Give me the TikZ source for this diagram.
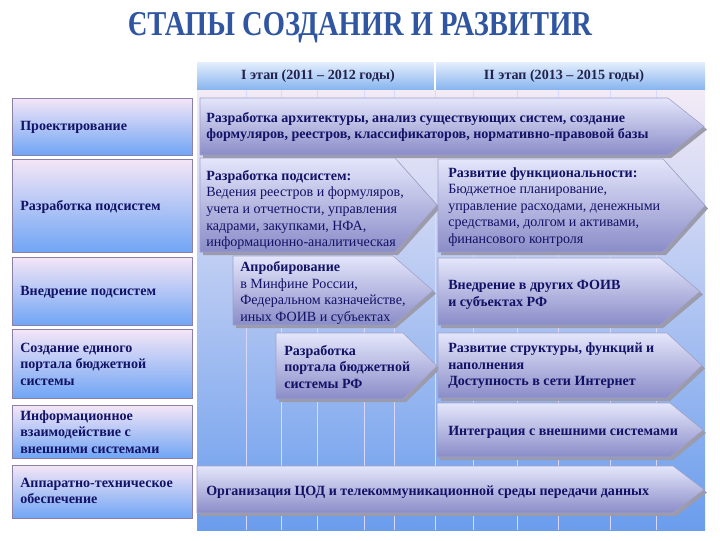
\documentclass[tikz,border=0pt]{standalone}
\usepackage{graphicx}
\usepackage{fontspec}
\setmainfont{Liberation Serif}
\usetikzlibrary{positioning}

\definecolor{navy}{RGB}{18,18,102}
\definecolor{headtext}{RGB}{34,34,78}
\definecolor{titleblue}{RGB}{48,86,162}
\definecolor{paneltop}{RGB}{243,235,246}
\definecolor{panelbot}{RGB}{106,157,237}
\definecolor{boxtop}{RGB}{245,230,246}
\definecolor{boxbot}{RGB}{112,165,245}
\definecolor{boxedge}{RGB}{138,128,168}
\definecolor{headtop}{RGB}{228,238,252}
\definecolor{headbot}{RGB}{134,180,238}
\definecolor{arrowtop}{RGB}{228,230,251}
\definecolor{arrowbot}{RGB}{138,140,200}
\definecolor{arrowedge}{RGB}{160,160,200}
\definecolor{arrowshadow}{RGB}{155,155,171}

% x1, y1, y2, tip start, tip
\newcommand\stagearrow[5]{%
  \fill[arrowshadow,shift={(3,3)}] (#1,#2)--(#4,#2)--(#5,{(#2+#3)/2})--(#4,#3)--(#1,#3)--cycle;
  \shade[top color=arrowtop,bottom color=arrowbot,draw=arrowedge,line width=0.4pt]
    (#1,#2)--(#4,#2)--(#5,{(#2+#3)/2})--(#4,#3)--(#1,#3)--cycle;
}

\begin{document}
\begin{tikzpicture}[x=0.025cm,y=-0.025cm,
  rowbox/.style={top color=boxtop,bottom color=boxbot,draw=boxedge,line width=0.6pt},
  rowtext/.style={anchor=west,align=left,inner sep=0pt,text=navy,font=\fontsize{10}{11.8}\selectfont\bfseries},
  stagetext/.style={anchor=west,align=left,inner sep=0pt,text=navy,font=\fontsize{10}{11.8}\selectfont\bfseries},
  plaintext/.style={anchor=west,align=left,inner sep=0pt,text=navy,font=\fontsize{10}{11.8}\selectfont},
  headtext/.style={inner sep=0pt,text=headtext,font=\fontsize{10}{12}\selectfont\bfseries}]

\useasboundingbox (0,0) rectangle (720,540);

\node[anchor=base,inner sep=0pt] (title) at (360,35) {\color{titleblue}\resizebox{330pt}{16.4pt}{\bfseries ЄТАПЫ СОЗДАНИR И РАЗВИТИR}};

% header and background
\shade[top color=headtop,bottom color=headbot] (197,62) rectangle (705,90);
\draw[white,line width=1pt] (435,62)--(435,90);
\shade[top color=paneltop,bottom color=panelbot] (197,90) rectangle (705,530);
\foreach \gx in {246,281,317,364,394,435,473,517,558,610,656}{
  \draw[white!85!blue,line width=0.6pt] (\gx,90)--(\gx,530);
}

\node[headtext] (stageone) at (318,76) {I этап (2011 – 2012 годы)};
\node[headtext] (stagetwo) at (564,76) {II этап (2013 – 2015 годы)};

% left column
\shade[rowbox] (12,98) rectangle (192,155);
\shade[rowbox] (12,159) rectangle (192,252);
\shade[rowbox] (12,257) rectangle (192,325);
\shade[rowbox] (12,329) rectangle (192,398);
\shade[rowbox] (12,405) rectangle (192,458);
\shade[rowbox] (12,465) rectangle (192,518);

\node[rowtext] (design) at (20,127) {Проектирование};
\node[rowtext] (subdev) at (20,207) {Разработка подсистем};
\node[rowtext] (subimpl) at (20,292) {Внедрение подсистем};
\node[rowtext] (portal) at (20,364) {Создание единого\\портала бюджетной\\системы};
\node[rowtext] (interop) at (20,432) {Информационное\\взаимодействие с\\внешними системами};
\node[rowtext] (hardware) at (20,491) {Аппаратно-техническое\\обеспечение};

% stage arrows
\stagearrow{200}{98}{155}{668}{704}
\stagearrow{200}{158}{252}{395}{437}
\stagearrow{438}{159}{252}{663}{705}
\stagearrow{233}{256}{325}{393}{433}
\stagearrow{438}{258}{325}{660}{700}
\stagearrow{276}{333}{399}{403}{437}
\stagearrow{438}{333}{398}{667}{702}
\stagearrow{437}{403}{457}{670}{703}
\stagearrow{197}{466}{513}{673}{704}

\node[stagetext] (archi) at (206,127) {Разработка архитектуры, анализ существующих систем, создание\\формуляров, реестров, классификаторов, нормативно-правовой базы};
\node[plaintext] (subsys) at (206,210) {\textbf{Разработка подсистем:}\\Ведения реестров и формуляров,\\учета и отчетности, управления\\кадрами, закупками, НФА,\\информационно-аналитическая};
\node[plaintext] (funcs) at (448,207) {\textbf{Развитие функциональности:}\\Бюджетное планирование,\\управление расходами, денежными\\средствами, долгом и активами,\\финансового контроля};
\node[plaintext] (pilot) at (240,293) {\textbf{Апробирование}\\в Минфине России,\\Федеральном казначействе,\\иных ФОИВ и субъектах};
\node[stagetext] (rollout) at (448,295) {Внедрение в других ФОИВ\\ и субъектах РФ};
\node[stagetext] (portaldev) at (284,367) {Разработка\\портала бюджетной\\системы РФ};
\node[stagetext] (portalgrow) at (448,366) {Развитие структуры, функций и\\наполнения\\Доступность в сети Интернет};
\node[stagetext] (integr) at (448,432) {Интеграция с внешними системами};
\node[stagetext] (datacentre) at (206,492) {Организация ЦОД  и телекоммуникационной среды передачи данных};

\end{tikzpicture}
\end{document}
